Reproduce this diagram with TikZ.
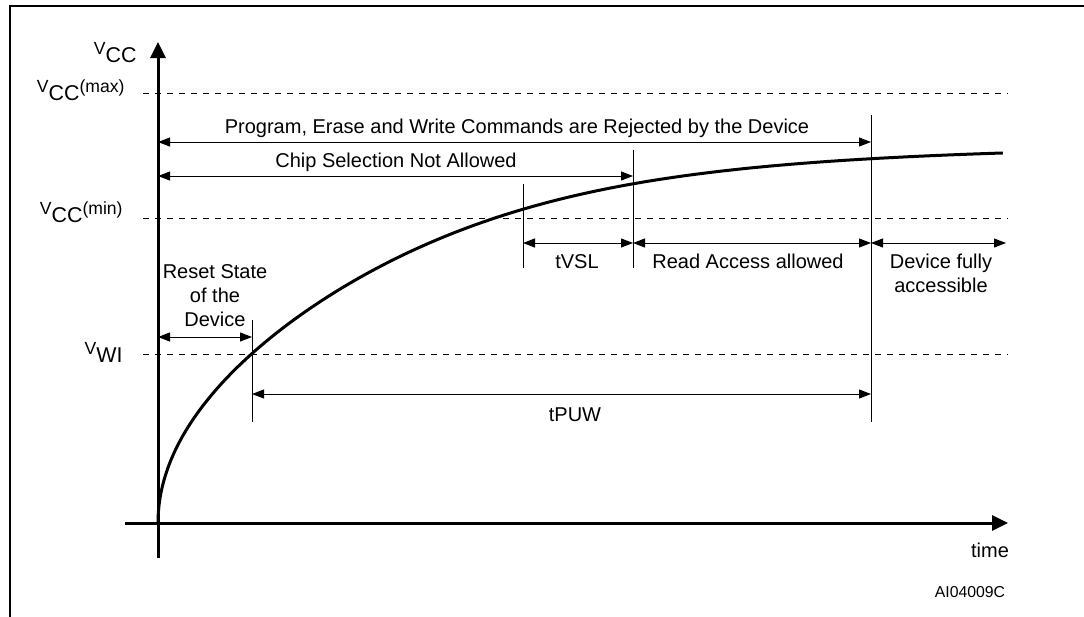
\documentclass[tikz,border=0pt]{standalone}
\usepackage{fontspec}
\setmainfont{Liberation Sans}
\usetikzlibrary{arrows.meta}
\newcommand{\up}[1]{\raisebox{3.8pt}{\fontsize{8.8}{10}\selectfont #1}}
\newcommand{\vsym}[2]{{\fontsize{10.7}{12}\selectfont\up{V}#1\up{#2}}}

\begin{document}
\begin{tikzpicture}
  [x=0.5pt,y=-0.5pt,
   every node/.style={inner sep=0pt,font=\fontsize{10}{12}\selectfont},
   axis/.style={line width=1.5pt,-{Triangle[length=8pt,width=7.5pt]}},
   level/.style={line width=0.5pt,dash pattern=on 3pt off 3pt},
   tick/.style={line width=0.5pt},
   span/.style={line width=0.5pt,{Triangle[length=6pt,width=4.5pt]}-{Triangle[length=6pt,width=4.5pt]}},
   curve/.style={line width=1.5pt}]
  \useasboundingbox (0,0) rectangle (1084,617);
  \draw[line width=1pt] (10,617) -- (10,5.5) -- (1084,5.5);

  \coordinate (ytop) at (158,42);
  \coordinate (ybot) at (158,558);
  \coordinate (xleft) at (125,523);
  \coordinate (xright) at (1008,523);

  % levels
  \foreach \n/\y in {max/93,min/218,wi/354} {
    \coordinate (\n L) at (143,\y);
    \coordinate (\n R) at (1008,\y);
    \draw[level] (\n L) -- (\n R);
  }

  % time marks
  \coordinate (s1) at (252,320);  \coordinate (e1) at (252,422);
  \coordinate (s2) at (523,184);  \coordinate (e2) at (523,268);
  \coordinate (s3) at (633,150);  \coordinate (e3) at (633,268);
  \coordinate (s4) at (871,115);  \coordinate (e4) at (871,422);
  \foreach \i in {1,...,4}
    \draw[tick] (s\i) -- (e\i);

  \coordinate (rp) at (158,142);
  \coordinate (rc) at (158,176);
  \coordinate (rr) at (158,243);
  \coordinate (rs) at (158,337);
  \coordinate (rw) at (158,394);
  \coordinate (rend) at (1006,243);
  \foreach \from/\to in {rp/s4 |- rp,rc/s3 |- rc,rs/s1 |- rs,s2 |- rr/s3 |- rr,
                         s3 |- rr/s4 |- rr,s4 |- rr/rend,s1 |- rw/s4 |- rw}
    \draw[span] (\from) -- (\to);

  % V_CC curve
  \draw[curve] plot[domain=0:1,samples=150,smooth]
    ({158+848*\x*\x},{523-509.6*\x/(1+(1.341*\x)^6)^(1/6)});

  \draw[axis] (ybot) -- (ytop);
  \draw[axis] (xleft) -- (xright);

  \node[anchor=base east] (vcc) at (137,62) {\vsym{CC}{}};
  \node[anchor=base east] (vmax) at (125,100) {\vsym{CC}{(max)}};
  \node[anchor=base east] (vmin) at (123,222) {\vsym{CC}{(min)}};
  \node[anchor=base east] (vwi) at (123,362) {\vsym{WI}{}};

  \node[anchor=base] (prog) at (517,133) {Program, Erase and Write Commands are Rejected by the Device};
  \node[anchor=base] (chip) at (396,167) {Chip Selection Not Allowed};
  \node[anchor=base,align=center] (reset) at (215,326) {Reset State\\of the\\Device};
  \node[anchor=base] (tvsl) at (577,268) {tVSL};
  \node[anchor=base] (read) at (748,268) {Read Access allowed};
  \node[anchor=base,align=center] (full) at (941,292) {Device fully\\accessible};
  \node[anchor=base] (tpuw) at (575,421) {tPUW};
  \node[anchor=base] (time) at (990,557) {time};
  \node[anchor=base,font=\fontsize{7.9}{9}\selectfont] (code) at (970,597) {AI04009C};
\end{tikzpicture}
\end{document}
